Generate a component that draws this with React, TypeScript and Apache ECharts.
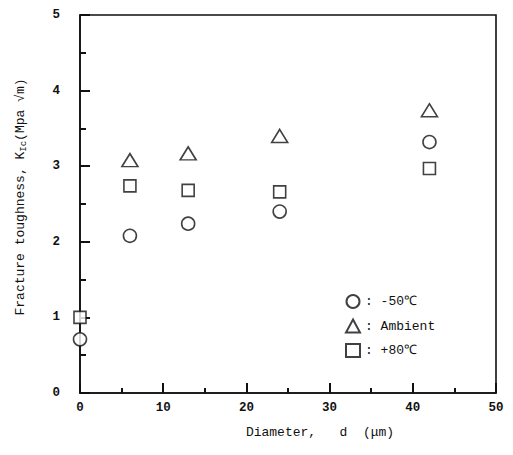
import React, { useEffect, useRef } from "react";
import * as echarts from "echarts";

const diameters = [0, 6, 13, 24, 42];
const minus50 = [0.71, 2.08, 2.24, 2.4, 3.32];
const ambientX = [6, 13, 24, 42];
const ambient = [3.08, 3.17, 3.4, 3.74];
const plus80 = [1.0, 2.74, 2.68, 2.66, 2.97];

const xTicks = [0, 10, 20, 30, 40, 50];
const yTicks = [0, 1, 2, 3, 4, 5];
const seriesNames = ["-50℃", "Ambient", "+80℃"];

const FONT = "'Liberation Mono', 'DejaVu Sans Mono', monospace";

export default function App() {
  const ref = useRef<HTMLDivElement>(null);
  useEffect(() => {
    if (!ref.current) return;
    const chart = echarts.init(ref.current, null, { renderer: "svg" });
    const markerStyle = {
      color: "#ffffff",
      borderColor: "#111111",
      borderWidth: 1.6,
    };
    chart.setOption({
      animation: false,
      backgroundColor: "#ffffff",
      grid: {
        left: 80,
        right: 17,
        top: 15,
        bottom: 62,
        show: true,
        borderColor: "#111111",
        borderWidth: 1.6,
        backgroundColor: "transparent",
      },
      legend: {
        orient: "vertical",
        left: 340,
        top: 289,
        itemWidth: 14,
        itemHeight: 13,
        itemGap: 9.5,
        data: seriesNames,
        formatter: (n: string) => ": " + n,
        textStyle: { fontFamily: FONT, fontSize: 13, color: "#111111" },
      },
      xAxis: {
        type: "value",
        min: xTicks[0],
        max: xTicks[xTicks.length - 1],
        interval: 10,
        axisLine: { show: true, lineStyle: { color: "#111111", width: 1.6 } },
        axisTick: { show: true, inside: true, length: 10, lineStyle: { color: "#111111", width: 2 } },
        minorTick: { show: true, splitNumber: 2, length: 5, lineStyle: { color: "#111111", width: 2 } },
        splitLine: { show: false },
        axisLabel: {
          margin: 8,
          fontFamily: FONT,
          fontSize: 12.5,
          fontWeight: "bold",
          color: "#111111",
        },
        name: "Diameter,   d  (μm)",
        nameLocation: "middle",
        nameGap: 33,
        nameTextStyle: {
          fontFamily: FONT,
          fontSize: 13,
          color: "#111111",
          padding: [0, 0, 0, 64],
        },
      },
      yAxis: {
        type: "value",
        min: yTicks[0],
        max: yTicks[yTicks.length - 1],
        interval: 1,
        axisLine: { show: true, lineStyle: { color: "#111111", width: 1.6 } },
        axisTick: { show: true, inside: true, length: 10, lineStyle: { color: "#111111", width: 2 } },
        minorTick: { show: true, splitNumber: 2, length: 6, lineStyle: { color: "#111111", width: 2 } },
        splitLine: { show: false },
        axisLabel: {
          margin: 20,
          fontFamily: FONT,
          fontSize: 12.5,
          fontWeight: "bold",
          color: "#111111",
        },
        name: "Fracture toughness, K{sub|Ic}(Mpa √m)",
        nameLocation: "middle",
        nameGap: 52,
        nameRotate: 90,
        nameTextStyle: {
          fontFamily: FONT,
          fontSize: 13,
          color: "#111111",
          padding: [0, 0, 0, 14],
          rich: {
            sub: { fontFamily: FONT, fontSize: 9, color: "#111111", verticalAlign: "bottom", padding: [6, 0, 0, 0] },
          },
        },
      },
      series: [
        {
          name: seriesNames[0],
          type: "scatter",
          symbol: "circle",
          symbolSize: 13,
          itemStyle: markerStyle,
          data: diameters.map((d, i) => [d, minus50[i]]),
          z: 3,
        },
        {
          name: seriesNames[1],
          type: "scatter",
          symbol: "triangle",
          symbolSize: [16, 13],
          itemStyle: markerStyle,
          data: ambientX.map((d, i) => [d, ambient[i]]),
          z: 3,
        },
        {
          name: seriesNames[2],
          type: "scatter",
          symbol: "rect",
          symbolSize: 12,
          itemStyle: markerStyle,
          data: diameters.map((d, i) => [d, plus80[i]]),
          z: 3,
        },
      ],
    });
    return () => chart.dispose();
  }, []);
  return <div ref={ref} style={{ width: 513, height: 455, margin: -8 }} />;
}
